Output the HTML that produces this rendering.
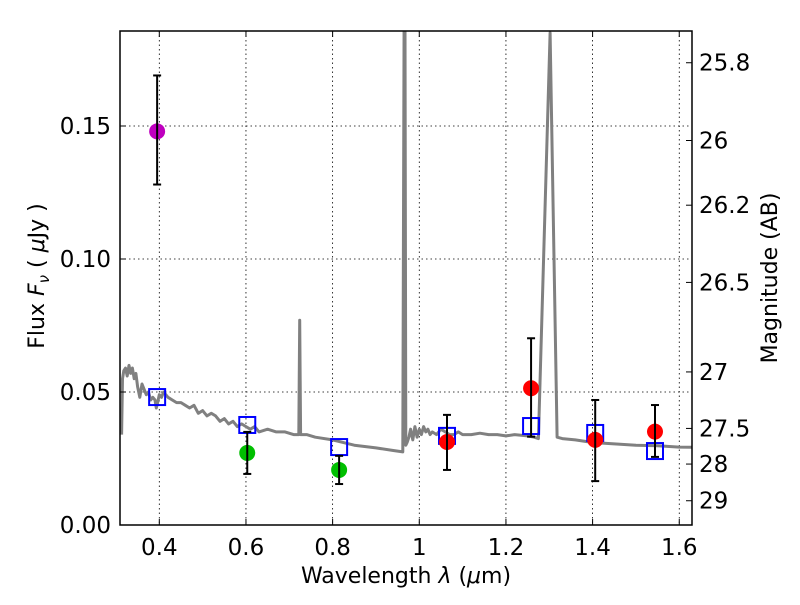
<!DOCTYPE html>
<html><head><meta charset="utf-8"><style>
body{margin:0;background:#fff}
svg text{font-family:"DejaVu Sans","Liberation Sans",sans-serif;fill:#000}
</style></head><body>
<svg id="chart" width="800" height="600" xmlns="http://www.w3.org/2000/svg">
<rect width="800" height="600" fill="#fff"/>
<g id="grid"></g>
<g id="spec"></g>
<g id="marks"></g>
<g id="axes"></g>
<text x="406" y="583" font-size="22" text-anchor="middle">Wavelength  <tspan font-style="italic">λ</tspan> (<tspan font-style="italic">μ</tspan>m)</text>
<text transform="translate(44,276) rotate(-90)" font-size="22" text-anchor="middle">Flux  <tspan font-style="italic">F</tspan><tspan font-style="italic" font-size="15" dy="5">ν</tspan><tspan dy="-5">  ( </tspan><tspan font-style="italic">μ</tspan>Jy )</text>
<text transform="translate(777,278) rotate(-90)" font-size="22" text-anchor="middle">Magnitude (AB)</text>
</svg>
<script>
const xTicks=[0.4,0.6,0.8,1.0,1.2,1.4,1.6];
const xTickLabels=["0.4","0.6","0.8","1","1.2","1.4","1.6"];
const yTicks=[0,0.05,0.10,0.15];
const yTickLabels=["0.00","0.05","0.10","0.15"];
const magTicks=[25.8,26,26.2,26.5,27,27.5,28,29];
const magTickLabels=["25.8","26","26.2","26.5","27","27.5","28","29"];
const obsWave=[0.395,0.603,0.815,1.064,1.258,1.406,1.544];
const obsFlux=[0.148,0.0271,0.0207,0.0312,0.0514,0.032,0.0351];
const obsErrHi=[0.169,0.035,0.026,0.0414,0.0702,0.047,0.0451];
const obsErrLo=[0.128,0.0192,0.0154,0.0207,0.0332,0.0165,0.0256];
const obsColor=["#bf00bf","#00bf00","#00bf00","#ff0000","#ff0000","#ff0000","#ff0000"];
const modelWave=[0.395,0.603,0.815,1.064,1.258,1.406,1.544];
const modelFlux=[0.0481,0.0376,0.0293,0.0335,0.0372,0.0346,0.0278];
const specWave=[0.313,0.315,0.318,0.322,0.326,0.33,0.334,0.338,0.342,0.346,
0.35,0.355,0.36,0.365,0.37,0.375,0.38,0.385,0.39,0.393,
0.396,0.4,0.405,0.41,0.415,0.42,0.43,0.44,0.45,0.46,
0.47,0.48,0.49,0.5,0.51,0.52,0.53,0.54,0.55,0.56,
0.57,0.58,0.59,0.6,0.61,0.62,0.63,0.65,0.67,0.69,
0.71,0.722,0.724,0.726,0.728,0.74,0.76,0.8,0.85,0.9,
0.94,0.962,0.965,0.967,0.969,0.972,0.976,0.98,0.985,0.99,
0.995,1.0,1.005,1.01,1.015,1.02,1.025,1.03,1.04,1.05,
1.06,1.07,1.08,1.09,1.1,1.12,1.14,1.16,1.18,1.2,
1.22,1.25,1.265,1.275,1.302,1.318,1.33,1.36,1.4,1.45,
1.5,1.55,1.6,1.63];
const specFlux=[0.034,0.055,0.058,0.059,0.056,0.060,0.057,0.059,0.055,0.057,
0.052,0.048,0.053,0.051,0.049,0.050,0.047,0.048,0.047,0.044,
0.046,0.049,0.048,0.050,0.049,0.048,0.047,0.046,0.046,0.045,
0.044,0.045,0.042,0.043,0.041,0.042,0.041,0.039,0.040,0.038,
0.039,0.037,0.038,0.037,0.036,0.037,0.035,0.036,0.035,0.035,
0.034,0.034,0.077,0.034,0.034,0.034,0.033,0.032,0.030,0.029,
0.028,0.0275,0.19,0.19,0.03,0.031,0.033,0.036,0.032,0.037,
0.033,0.036,0.034,0.037,0.035,0.036,0.034,0.035,0.034,0.036,
0.035,0.034,0.034,0.035,0.034,0.034,0.0345,0.034,0.034,0.0335,
0.034,0.0335,0.033,0.0325,0.185,0.033,0.0325,0.032,0.031,0.0305,
0.030,0.0298,0.0293,0.0292];
const L=120,R=692,T=31,B=525;
const xs=v=>159.3+(v-0.4)*433.3;
const ys=v=>B-v*2660;
const ms=m=>ys(Math.pow(10,(23.9-m)/2.5));
const NS="http://www.w3.org/2000/svg";
function mk(tag,attrs,parent){const e=document.createElementNS(NS,tag);for(const k in attrs)e.setAttribute(k,attrs[k]);parent.appendChild(e);return e;}
const grid=document.getElementById('grid'),axes=document.getElementById('axes'),spec=document.getElementById('spec'),marks=document.getElementById('marks');
xTicks.forEach((v,i)=>{const x=xs(v);
 const g=mk('line',{x1:x,x2:x,y1:T,y2:B,stroke:'#000','stroke-width':0.8,'stroke-dasharray':'1.5,3'},grid);
 
 mk('line',{x1:x,x2:x,y1:B,y2:B-6,stroke:'#000','stroke-width':1},axes);
 mk('line',{x1:x,x2:x,y1:T,y2:T+6,stroke:'#000','stroke-width':1},axes);
 const t=mk('text',{x:x,y:B+30,'font-size':23,'text-anchor':'middle'},axes);t.textContent=xTickLabels[i];
 });
yTicks.forEach((v,i)=>{const y=ys(v);
 const g=mk('line',{x1:L,x2:R,y1:y,y2:y,stroke:'#000','stroke-width':0.8,'stroke-dasharray':'1.5,3'},grid);
 
 mk('line',{x1:L,x2:L+6,y1:y,y2:y,stroke:'#000','stroke-width':1},axes);
 const t=mk('text',{x:L-9,y:y+8,'font-size':23,'text-anchor':'end'},axes);t.textContent=yTickLabels[i];
 });
magTicks.forEach((m,i)=>{const y=ms(m);
 mk('line',{x1:R,x2:R-6,y1:y,y2:y,stroke:'#000','stroke-width':1},axes);
 const t=mk('text',{x:R+7,y:y+8,'font-size':23,'text-anchor':'start'},axes);t.textContent=magTickLabels[i];
 });
const fr=mk('rect',{x:L,y:T,width:R-L,height:B-T,fill:'none',stroke:'#000','stroke-width':1.5},axes);

const cp=mk('clipPath',{id:'clip'},spec);mk('rect',{x:L,y:T,width:R-L,height:B-T},cp);
const pl=mk('polyline',{points:specWave.map((w,i)=>xs(w).toFixed(1)+','+ys(specFlux[i]).toFixed(1)).join(' '),fill:'none',stroke:'#808080','stroke-width':3,'stroke-linejoin':'round','clip-path':'url(#clip)'},spec);

modelWave.forEach((w,i)=>{const x=xs(w),y=ys(modelFlux[i]);
 const r=mk('rect',{x:x-8,y:y-8,width:16,height:16,fill:'none',stroke:'#0000ff','stroke-width':2},marks);
 });
obsWave.forEach((w,i)=>{const x=xs(w);
 const c=mk('circle',{cx:x,cy:ys(obsFlux[i]),r:8,fill:obsColor[i]},marks);
 
 const e=mk('g',{stroke:'#000','stroke-width':2},marks);
 
 const y1=ys(obsErrHi[i]),y2=ys(obsErrLo[i]);
 mk('line',{x1:x,x2:x,y1:y1,y2:y2},e);mk('line',{x1:x-4,x2:x+4,y1:y1,y2:y1},e);mk('line',{x1:x-4,x2:x+4,y1:y2,y2:y2},e);});
</script>
</body></html>
